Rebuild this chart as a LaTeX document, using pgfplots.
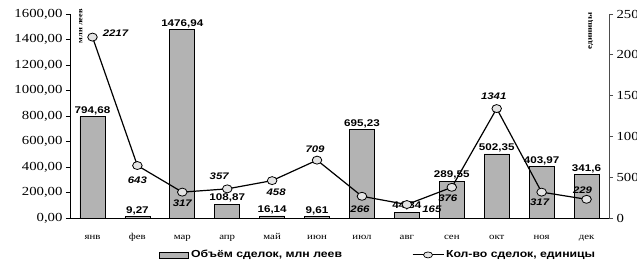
\documentclass[border=0pt]{standalone}
\usepackage{fontspec}
\setmainfont{Liberation Serif}[FakeStretch=1.2]
\setsansfont{Liberation Sans}[FakeStretch=1.2]
\usepackage{pgfplots}
\usepackage{pgfplotstable}
\pgfplotsset{compat=1.18}
\definecolor{barfill}{HTML}{B3B3B3}
\definecolor{markfill}{HTML}{E4E4E4}

\pgfplotstableread{
x v
0 794.68
1 9.27
2 1476.94
3 108.87
4 16.14
5 9.61
6 695.23
7 44.84
8 289.55
9 502.35
10 403.97
11 341.6
}\bars

\pgfplotstableread{
x v dx dy
0 2217 23 4
1 643 0 -15
2 317 0 -11
3 357 -8 13
4 458 4 -12
5 709 -2 11
6 266 -2 -13
7 165 25 -4.5
8 376 -4 -11
9 1341 -3 12
10 317 -2 -10
11 229 -4 9
}\deals

\begin{document}
\begin{tikzpicture}
\begin{axis}[
  name=ax,
  scale only axis, width=539pt, height=204pt,
  at={(0,0)}, anchor=south west,
  xmin=-0.5, xmax=11.5, ymin=0, ymax=1600,
  axis y line*=left, axis x line*=bottom,
  axis line style={black, line width=0.8pt},
  ytick={0,200,...,1600},
  xtick={0,...,11},
  xticklabels={янв,фев,мар,апр,май,июн,июл,авг,сен,окт,ноя,дек},
  minor xtick={-0.5,0.5,...,11.5},
  x tick style={draw=none},
  minor x tick style={black, line width=0.8pt},
  minor tick length=8pt,
  tick align=outside,
  major tick length=4pt,
  y tick style={black, line width=0.8pt},
  xticklabel style={font=\fontsize{9}{10}\selectfont, yshift=-7pt, text height=1.6ex, text depth=0.3ex},
  yticklabel style={font=\fontsize{12.3}{14}\selectfont, /pgf/number format/.cd, fixed, fixed zerofill, precision=2, use comma, 1000 sep={}},
  /pgf/number format/assume math mode=true,
  ybar, bar width=25pt,
  nodes near coords,
  nodes near coords style={inner sep=1.5pt, font=\sffamily\bfseries\fontsize{9.7}{10}\selectfont, /pgf/number format/.cd, fixed, precision=2, use comma, 1000 sep={}},
  clip=false,
]
\addplot[fill=barfill, draw=black, line width=0.7pt] table[x=x,y=v] {\bars};
\node[rotate=90, font=\bfseries\fontsize{7}{8}\selectfont] at (rel axis cs:0.02,0.94) {млн леев};
\end{axis}
\begin{axis}[
  scale only axis, width=539pt, height=204pt,
  at={(0,0)}, anchor=south west,
  xmin=-0.5, xmax=11.5, ymin=0, ymax=2500,
  axis y line*=right, hide x axis,
  axis line style={black!70, line width=0.8pt},
  ytick={0,500,...,2500},
  tick align=outside, major tick length=4pt,
  y tick style={black!70, line width=0.8pt},
  yticklabel style={font=\fontsize{12.3}{14}\selectfont, /pgf/number format/.cd, fixed, precision=0, 1000 sep={}},
  /pgf/number format/assume math mode=true,
  clip=false,
  legend columns=2,
  legend style={at={(axis description cs:0.572,-0.181)}, anchor=center, draw=none, fill=none,
    font=\sffamily\bfseries\fontsize{10.2}{11}\selectfont,
    /tikz/every even column/.append style={column sep=68pt}},
]
\addlegendimage{legend image code/.code={\draw[fill=barfill, draw=black, line width=0.7pt] (0pt,-3pt) rectangle (29pt,3pt);}}
\addlegendentry{Объём сделок, млн леев}
\addplot[black, line width=1.2pt, mark=*, mark size=4pt,
  mark options={fill=markfill, draw=black, line width=0.8pt, xscale=1.2},
  nodes near coords,
  visualization depends on={\thisrow{dx}\as\mydx},
  visualization depends on={\thisrow{dy}\as\mydy},
  nodes near coords style={anchor=center, xshift=\mydx pt, yshift=\mydy pt, font=\sffamily\bfseries\itshape\fontsize{9.5}{10}\selectfont, /pgf/number format/.cd, fixed, precision=0, 1000 sep={}},
  legend image code/.code={\draw[black, line width=1pt] (0pt,0pt) -- (31pt,0pt); \draw[fill=markfill, draw=black, line width=0.7pt] (15.5pt,0pt) ellipse (4.5pt and 3pt);}
] table[x=x,y=v] {\deals};
\addlegendentry{Кол-во сделок, единицы}
\node[rotate=90, font=\bfseries\fontsize{7.5}{8}\selectfont] at (rel axis cs:0.966,0.917) {единицы};
\end{axis}
\pgfresetboundingbox
\path (ax.south west) ++(-70pt,-47pt) rectangle ++(637pt,265pt);
\end{tikzpicture}
\end{document}
